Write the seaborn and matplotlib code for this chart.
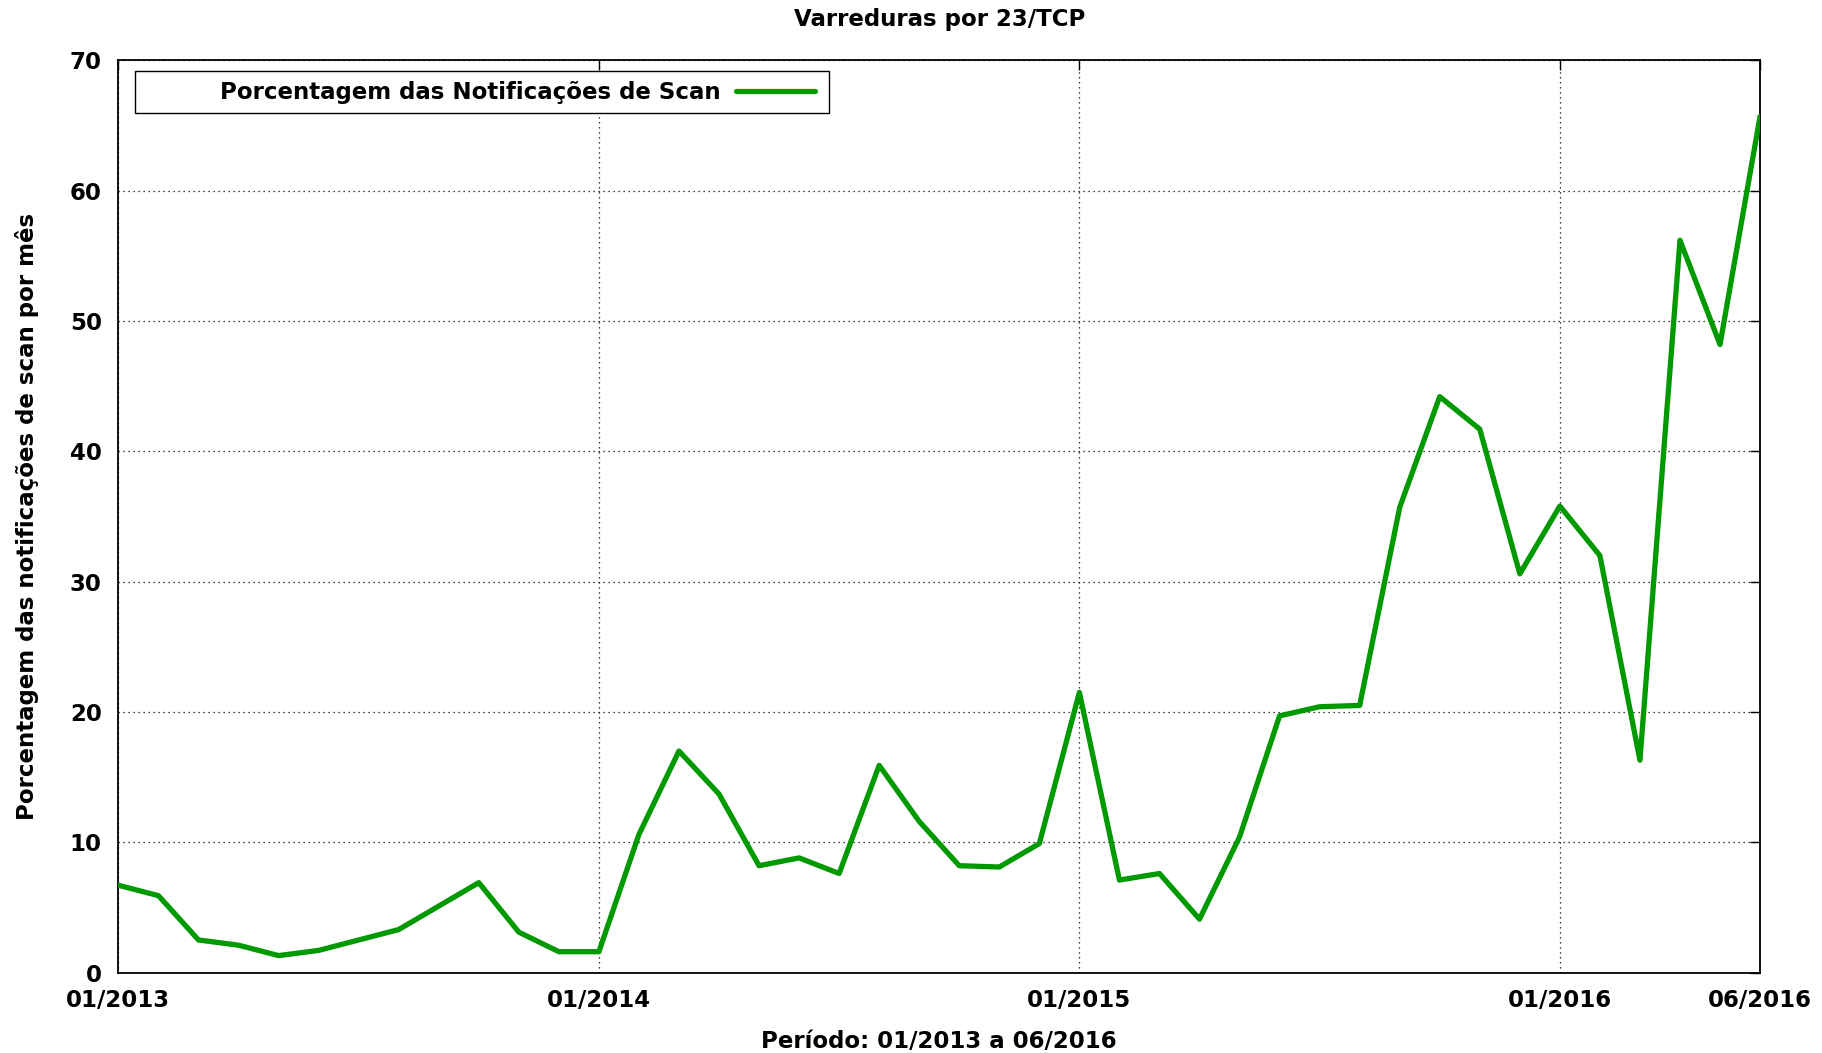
import numpy as np
import pandas as pd
import matplotlib
matplotlib.use("Agg")
import matplotlib.pyplot as plt
from matplotlib.patches import Rectangle
import seaborn as sns

# meses de 01/2013 a 06/2016
meses = pd.period_range("2013-01", "2016-06", freq="M").strftime("%m/%Y").tolist()
porcentagem = [6.7, 5.9, 2.5, 2.1, 1.3, 1.7, 2.5, 3.3, 5.1, 6.9, 3.1, 1.6,
               1.6, 10.6, 17.0, 13.7, 8.2, 8.8, 7.6, 15.9, 11.6, 8.2, 8.1, 9.9,
               21.5, 7.1, 7.6, 4.1, 10.4, 19.7, 20.4, 20.5, 35.7, 44.2, 41.7, 30.6,
               35.8, 32.0, 16.3, 56.2, 48.2, 65.7]
ticks_x = ["01/2013", "01/2014", "01/2015", "01/2016", "06/2016"]
ticks_y = [0, 10, 20, 30, 40, 50, 60, 70]

df = pd.DataFrame({"mes": np.arange(len(meses)), "valor": porcentagem})

sns.set_style("white")
plt.rcParams["font.family"] = ["DejaVu Sans"]
plt.rcParams["font.weight"] = "bold"
plt.rcParams["axes.labelweight"] = "bold"
plt.rcParams["axes.titleweight"] = "bold"
for k in ["text.color", "axes.labelcolor", "xtick.color", "ytick.color"]:
    plt.rcParams[k] = "black"

fig = plt.figure(figsize=(18.22, 10.53), dpi=100)
ax = fig.add_axes([0.065, 0.0764, 0.901, 0.8662])

verde = "#009900"
sns.lineplot(data=df, x="mes", y="valor", color=verde, linewidth=3.8, ax=ax, zorder=3)

ax.set_xlim(0, len(meses) - 1)
ax.set_ylim(0, 70)
ax.set_xticks([meses.index(m) for m in ticks_x])
ax.set_xticklabels(ticks_x)
ax.set_yticks(ticks_y)

fs = 16.5
ax.tick_params(axis="both", direction="in", length=7, width=1, labelsize=fs,
               top=True, right=True, color="black", labelcolor="black")
ax.tick_params(axis="x", pad=12)
ax.tick_params(axis="y", pad=12)
for lb in ax.get_xticklabels() + ax.get_yticklabels():
    lb.set_fontweight("bold")

ax.grid(True, linestyle=(0, (1, 3)), color="black", linewidth=0.9)
for s in ax.spines.values():
    s.set_color("black")
    s.set_linewidth(1.3)

ax.set_title("Varreduras por 23/TCP", fontsize=fs, fontweight="bold", pad=25,
             color="black")
ax.set_xlabel("Período: 01/2013 a 06/2016", fontsize=fs, fontweight="bold",
              labelpad=13, color="black")
ax.set_ylabel("Porcentagem das notificações de scan por mês", fontsize=fs,
              fontweight="bold", labelpad=22, color="black")

# caixa da legenda no estilo gnuplot
ax.add_patch(Rectangle((0.0101, 0.9423), 0.4226, 0.0461, transform=ax.transAxes,
                       facecolor="white", edgecolor="black", linewidth=1.0, zorder=4))
leg = ax.legend(["Porcentagem das Notificações de Scan"], loc="center right",
                bbox_to_anchor=(0.4327, 0.9653), frameon=False, markerfirst=False,
                handlelength=3.45, handletextpad=0.68, borderpad=0.0,
                borderaxespad=0.6, prop={"weight": "bold", "size": fs})
leg.set_zorder(5)
for t in leg.get_texts():
    t.set_color("black")

fig.savefig("out.png", dpi=100)
